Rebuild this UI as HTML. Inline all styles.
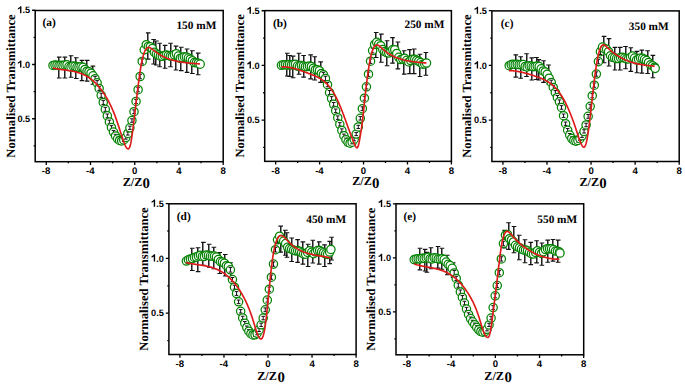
<!DOCTYPE html>
<html><head><meta charset="utf-8"><style>
html,body{margin:0;padding:0;background:#fff;width:685px;height:385px;overflow:hidden}
svg{display:block}
text{font-family:"Liberation Serif",serif;font-weight:bold;fill:#000;text-rendering:geometricPrecision}
.tx{font-family:"Liberation Sans",sans-serif;font-size:9.6px;text-anchor:middle;font-weight:bold}
.ty{font-family:"Liberation Sans",sans-serif;font-size:9.2px;text-anchor:end;font-weight:bold}
.xt{font-size:12.2px}
.x0{font-size:14.8px}
.yt{font-size:12.5px;text-anchor:middle}
.tag{font-size:11.4px}
.eb{stroke:#111;stroke-width:1;fill:none}
.conc{font-size:11.3px;text-anchor:end}
</style></head><body>
<svg width="685" height="385" viewBox="0 0 685 385">
<defs><path id="one" d="M401 0V-716H292C258-640 180-566 42-520V-392C128-420 206-462 264-508V0Z"/></defs>
<rect width="685" height="385" fill="#fff"/>
<path d="M58.5 57.1V78M64.5 57.1V78M70.5 55.7V77.2M75.5 57.8V78.5M81.5 60.4V80.6M86.5 60.4V81.1M92.5 66.1V84.3M147.5 32.9V59.1M153.5 39.5V64M155.5 41V65M159.5 43.3V66.7M164.5 45.4V68.3M170.5 43.3V66.7M175.5 46.1V70M180.5 47.3V70.6M186.5 49V72.4M191.5 50.8V73.5M197.5 53.1V74.7" stroke="#222" stroke-width="1" fill="none"/>
<path d="M59.5 57.4V77.7M65.5 57.4V77.7M71.5 56V76.9M76.5 58.1V78.2M82.5 60.7V80.3M87.5 60.7V80.8M93.5 66.4V84M148.5 33.2V58.8M154.5 39.8V63.7M156.5 41.3V64.7M160.5 43.6V66.4M165.5 45.7V68M171.5 43.6V66.4M176.5 46.4V69.7M181.5 47.6V70.3M187.5 49.3V72.1M192.5 51.1V73.2M198.5 53.4V74.4" stroke="#8a8a8a" stroke-width="1" fill="none"/>
<path d="M56.9 57.1h4.6M56.9 78h4.6M62.6 57.1h4.6M62.6 78h4.6M68.8 55.7h4.6M68.8 77.2h4.6M74 57.8h4.6M74 78.5h4.6M79.7 60.4h4.6M79.7 80.6h4.6M84.9 60.4h4.6M84.9 81.1h4.6M90.6 66.1h4.6M90.6 84.3h4.6M145.9 32.9h4.6M145.9 59.1h4.6M151.3 39.5h4.6M151.3 64h4.6M154.1 41h4.6M154.1 65h4.6M157.3 43.3h4.6M157.3 66.7h4.6M162.8 45.4h4.6M162.8 68.3h4.6M168.2 43.3h4.6M168.2 66.7h4.6M173.7 46.1h4.6M173.7 70h4.6M179 47.3h4.6M179 70.6h4.6M184.8 49h4.6M184.8 72.4h4.6M190.1 50.8h4.6M190.1 73.5h4.6M195.9 53.1h4.6M195.9 74.7h4.6" stroke="#111" stroke-width="1.1" fill="none"/>
<g fill="#fff" stroke="#058305" stroke-width="1.25"><circle cx="53" cy="65.47" r="4.15"/><circle cx="55" cy="65.06" r="4.15"/><circle cx="57" cy="65.15" r="4.15"/><circle cx="59" cy="65.51" r="4.15"/><circle cx="61" cy="65.15" r="4.15"/><circle cx="63" cy="65.48" r="4.15"/><circle cx="65" cy="65.12" r="4.15"/><circle cx="67" cy="64.83" r="4.15"/><circle cx="69" cy="66.52" r="4.15"/><circle cx="71" cy="66.95" r="4.15"/><circle cx="73" cy="65.93" r="4.15"/><circle cx="75" cy="66.31" r="4.15"/><circle cx="77" cy="67.11" r="4.15"/><circle cx="79" cy="67.13" r="4.15"/><circle cx="81" cy="66.78" r="4.15"/><circle cx="83" cy="67.33" r="4.15"/><circle cx="85" cy="69.42" r="4.15"/><circle cx="87" cy="71.2" r="4.15"/><circle cx="89" cy="71.69" r="4.15"/><circle cx="91" cy="73.24" r="4.15"/><circle cx="93" cy="75.83" r="4.15"/><circle cx="95.05" cy="78.7" r="4.15"/><path d="M95.05 76.35V81.04M93.25 76.35h3.6M93.25 81.04h3.6" class="eb"/><circle cx="97.1" cy="82.8" r="4.15"/><path d="M97.1 80.59V85.01M95.3 80.59h3.6M95.3 85.01h3.6" class="eb"/><circle cx="99.15" cy="88.48" r="4.15"/><path d="M99.15 86.35V90.61M97.35 86.35h3.6M97.35 90.61h3.6" class="eb"/><circle cx="101.2" cy="95.27" r="4.15"/><path d="M101.2 93.19V97.36M99.4 93.19h3.6M99.4 97.36h3.6" class="eb"/><circle cx="103.25" cy="102.4" r="4.15"/><path d="M103.25 100.36V104.45M101.45 100.36h3.6M101.45 104.45h3.6" class="eb"/><circle cx="105.3" cy="109.33" r="4.15"/><path d="M105.3 107.34V111.32M103.5 107.34h3.6M103.5 111.32h3.6" class="eb"/><circle cx="107.35" cy="115.89" r="4.15"/><path d="M107.35 113.98V117.8M105.55 113.98h3.6M105.55 117.8h3.6" class="eb"/><circle cx="109.4" cy="121.96" r="4.15"/><path d="M109.4 120.13V123.79M107.6 120.13h3.6M107.6 123.79h3.6" class="eb"/><circle cx="111.45" cy="127.41" r="4.15"/><path d="M111.45 125.66V129.16M109.65 125.66h3.6M109.65 129.16h3.6" class="eb"/><circle cx="113.5" cy="132.11" r="4.15"/><path d="M113.5 130.44V133.79M111.7 130.44h3.6M111.7 133.79h3.6" class="eb"/><circle cx="115.55" cy="135.94" r="4.15"/><path d="M115.55 134.32V137.57M113.75 134.32h3.6M113.75 137.57h3.6" class="eb"/><circle cx="117.6" cy="138.77" r="4.15"/><path d="M117.6 137.17V140.37M115.8 137.17h3.6M115.8 140.37h3.6" class="eb"/><circle cx="119.65" cy="140.47" r="4.15"/><path d="M119.65 138.87V142.07M117.85 138.87h3.6M117.85 142.07h3.6" class="eb"/><circle cx="121.7" cy="140.92" r="4.15"/><path d="M121.7 139.32V142.52M119.9 139.32h3.6M119.9 142.52h3.6" class="eb"/><circle cx="123.75" cy="139.98" r="4.15"/><path d="M123.75 138.38V141.58M121.95 138.38h3.6M121.95 141.58h3.6" class="eb"/><circle cx="125.8" cy="137.53" r="4.15"/><path d="M125.8 135.93V139.13M124 135.93h3.6M124 139.13h3.6" class="eb"/><circle cx="127.85" cy="133.47" r="4.15"/><path d="M127.85 131.87V135.07M126.05 131.87h3.6M126.05 135.07h3.6" class="eb"/><circle cx="129.9" cy="127.79" r="4.15"/><path d="M129.9 126.15V129.42M128.1 126.15h3.6M128.1 129.42h3.6" class="eb"/><circle cx="131.95" cy="120.53" r="4.15"/><path d="M131.95 118.79V122.27M130.15 118.79h3.6M130.15 122.27h3.6" class="eb"/><circle cx="134" cy="111.74" r="4.15"/><path d="M134 109.87V113.62M132.2 109.87h3.6M132.2 113.62h3.6" class="eb"/><circle cx="136.05" cy="101.46" r="4.15"/><path d="M136.05 99.45V103.46M134.25 99.45h3.6M134.25 103.46h3.6" class="eb"/><circle cx="138.1" cy="89.71" r="4.15"/><path d="M138.1 87.62V91.81M136.3 87.62h3.6M136.3 91.81h3.6" class="eb"/><circle cx="140.15" cy="76.5" r="4.15"/><path d="M140.15 74.29V78.71M138.35 74.29h3.6M138.35 78.71h3.6" class="eb"/><circle cx="142.2" cy="61.47" r="4.15"/><path d="M142.2 58.97V63.97M140.4 58.97h3.6M140.4 63.97h3.6" class="eb"/><circle cx="144.25" cy="49.84" r="4.15"/><circle cx="146.3" cy="44.67" r="4.15"/><circle cx="148.35" cy="46.44" r="4.15"/><circle cx="150.35" cy="46.76" r="4.15"/><circle cx="152.35" cy="48.61" r="4.15"/><circle cx="154.35" cy="52.24" r="4.15"/><circle cx="156.35" cy="54.06" r="4.15"/><circle cx="158.35" cy="55.09" r="4.15"/><circle cx="160.35" cy="56.2" r="4.15"/><circle cx="162.35" cy="56.33" r="4.15"/><circle cx="164.35" cy="55.44" r="4.15"/><circle cx="166.35" cy="54.91" r="4.15"/><circle cx="168.35" cy="55.53" r="4.15"/><circle cx="170.35" cy="56.19" r="4.15"/><circle cx="172.35" cy="56.29" r="4.15"/><circle cx="174.35" cy="54.8" r="4.15"/><circle cx="176.35" cy="53.75" r="4.15"/><circle cx="178.35" cy="56.07" r="4.15"/><circle cx="180.35" cy="58.25" r="4.15"/><circle cx="182.35" cy="57.55" r="4.15"/><circle cx="184.35" cy="56.67" r="4.15"/><circle cx="186.35" cy="56.97" r="4.15"/><circle cx="188.35" cy="58.1" r="4.15"/><circle cx="190.35" cy="59.2" r="4.15"/><circle cx="192.35" cy="60.68" r="4.15"/><circle cx="194.35" cy="62.56" r="4.15"/><circle cx="196.35" cy="62.78" r="4.15"/><circle cx="198.35" cy="63.24" r="4.15"/><circle cx="200.2" cy="64.13" r="4.15"/></g>
<path d="M53 68.02 L53.49 68.13 L53.98 68.24 L54.47 68.35 L54.97 68.45 L55.46 68.55 L55.95 68.65 L56.44 68.74 L56.93 68.83 L57.42 68.91 L57.91 69 L58.4 69.08 L58.9 69.15 L59.39 69.23 L59.88 69.3 L60.37 69.38 L60.86 69.45 L61.35 69.52 L61.84 69.58 L62.33 69.65 L62.83 69.72 L63.32 69.78 L63.81 69.85 L64.3 69.92 L64.79 69.98 L65.28 70.05 L65.77 70.11 L66.27 70.18 L66.76 70.25 L67.25 70.32 L67.74 70.39 L68.23 70.46 L68.72 70.53 L69.21 70.61 L69.7 70.69 L70.2 70.77 L70.69 70.85 L71.18 70.94 L71.67 71.02 L72.16 71.12 L72.65 71.21 L73.14 71.31 L73.63 71.41 L74.13 71.52 L74.62 71.63 L75.11 71.75 L75.6 71.86 L76.09 71.99 L76.58 72.12 L77.07 72.25 L77.57 72.39 L78.06 72.54 L78.55 72.69 L79.04 72.85 L79.53 73.01 L80.02 73.18 L80.51 73.36 L81 73.55 L81.5 73.74 L81.99 73.94 L82.48 74.14 L82.97 74.35 L83.46 74.58 L83.95 74.81 L84.44 75.04 L84.93 75.29 L85.43 75.55 L85.92 75.81 L86.41 76.08 L86.9 76.37 L87.39 76.66 L87.88 76.96 L88.37 77.27 L88.87 77.59 L89.36 77.93 L89.85 78.27 L90.34 78.62 L90.83 78.99 L91.32 79.37 L91.81 79.75 L92.3 80.15 L92.8 80.56 L93.29 80.99 L93.78 81.42 L94.27 81.87 L94.76 82.33 L95.25 82.8 L95.74 83.29 L96.23 83.79 L96.73 84.3 L97.22 84.83 L97.71 85.37 L98.2 85.92 L98.69 86.49 L99.18 87.07 L99.67 87.67 L100.17 88.28 L100.66 88.91 L101.15 89.56 L101.64 90.21 L102.13 90.89 L102.62 91.58 L103.11 92.29 L103.6 93.01 L104.1 93.75 L104.59 94.5 L105.08 95.28 L105.57 96.07 L106.06 96.87 L106.55 97.7 L107.04 98.54 L107.53 99.41 L108.03 100.3 L108.52 101.2 L109.01 102.13 L109.5 103.09 L109.99 104.07 L110.48 105.07 L110.97 106.11 L111.47 107.17 L111.96 108.26 L112.45 109.38 L112.94 110.53 L113.43 111.71 L113.92 112.92 L114.41 114.17 L114.9 115.46 L115.4 116.78 L115.89 118.14 L116.38 119.53 L116.87 120.95 L117.36 122.4 L117.85 123.87 L118.34 125.36 L118.83 126.86 L119.33 128.37 L119.82 129.89 L120.31 131.41 L120.8 132.92 L121.29 134.43 L121.78 135.92 L122.27 137.4 L122.77 138.85 L123.26 140.28 L123.75 141.67 L124.24 143 L124.73 144.24 L125.22 145.38 L125.71 146.4 L126.2 147.27 L126.7 147.98 L127.19 148.5 L127.68 148.81 L128.17 148.89 L128.66 148.7 L129.15 148.19 L129.64 147.26 L130.13 145.87 L130.63 143.93 L131.12 141.44 L131.61 138.48 L132.1 135.13 L132.59 131.51 L133.08 127.69 L133.57 123.76 L134.07 119.75 L134.56 115.67 L135.05 111.54 L135.54 107.4 L136.03 103.26 L136.52 99.13 L137.01 95.05 L137.5 91.03 L138 87.1 L138.49 83.27 L138.98 79.56 L139.47 76 L139.96 72.62 L140.45 69.42 L140.94 66.43 L141.43 63.67 L141.93 61.17 L142.42 58.92 L142.91 56.91 L143.4 55.12 L143.89 53.56 L144.38 52.21 L144.87 51.04 L145.37 50.07 L145.86 49.26 L146.35 48.62 L146.84 48.12 L147.33 47.76 L147.82 47.53 L148.31 47.42 L148.8 47.4 L149.3 47.48 L149.79 47.64 L150.28 47.87 L150.77 48.16 L151.26 48.49 L151.75 48.85 L152.24 49.24 L152.73 49.64 L153.23 50.04 L153.72 50.44 L154.21 50.82 L154.7 51.2 L155.19 51.57 L155.68 51.93 L156.17 52.28 L156.67 52.62 L157.16 52.96 L157.65 53.29 L158.14 53.61 L158.63 53.92 L159.12 54.23 L159.61 54.53 L160.1 54.82 L160.6 55.11 L161.09 55.39 L161.58 55.66 L162.07 55.92 L162.56 56.18 L163.05 56.43 L163.54 56.68 L164.03 56.91 L164.53 57.15 L165.02 57.37 L165.51 57.59 L166 57.81 L166.49 58.02 L166.98 58.22 L167.47 58.41 L167.97 58.61 L168.46 58.79 L168.95 58.97 L169.44 59.15 L169.93 59.32 L170.42 59.48 L170.91 59.64 L171.4 59.8 L171.9 59.95 L172.39 60.1 L172.88 60.24 L173.37 60.37 L173.86 60.51 L174.35 60.63 L174.84 60.76 L175.33 60.88 L175.83 61 L176.32 61.11 L176.81 61.22 L177.3 61.32 L177.79 61.42 L178.28 61.52 L178.77 61.62 L179.27 61.71 L179.76 61.8 L180.25 61.88 L180.74 61.96 L181.23 62.04 L181.72 62.12 L182.21 62.2 L182.7 62.27 L183.2 62.34 L183.69 62.4 L184.18 62.47 L184.67 62.53 L185.16 62.59 L185.65 62.65 L186.14 62.71 L186.63 62.76 L187.13 62.82 L187.62 62.87 L188.11 62.92 L188.6 62.97 L189.09 63.02 L189.58 63.06 L190.07 63.11 L190.57 63.15 L191.06 63.2 L191.55 63.24 L192.04 63.29 L192.53 63.33 L193.02 63.37 L193.51 63.41 L194 63.45 L194.5 63.49 L194.99 63.54 L195.48 63.58 L195.97 63.62 L196.46 63.66 L196.95 63.7 L197.44 63.75 L197.93 63.79 L198.43 63.83 L198.92 63.88 L199.41 63.92 L199.9 63.97" stroke="#de1a1a" stroke-width="1.65" fill="none" stroke-linejoin="round"/>
<rect x="35.2" y="10.5" width="188" height="151.2" fill="none" stroke="#000" stroke-width="1.5"/>
<path d="M46.26 161.7v3.2M90.49 161.7v3.2M134.73 161.7v3.2M178.96 161.7v3.2M223.2 161.7v3.2M68.38 161.7v1.6M112.61 161.7v1.6M156.85 161.7v1.6M201.08 161.7v1.6M35.2 118.75h-3.1M35.2 64.5h-3.1M35.2 10.25h-3.1M35.2 145.88h-1.6M35.2 91.62h-1.6M35.2 37.38h-1.6" stroke="#000" stroke-width="1.3" fill="none"/>
<text class="tx" x="46.06" y="174">-8</text>
<text class="tx" x="90.29" y="174">-4</text>
<text class="tx" x="134.73" y="174">0</text>
<text class="tx" x="178.96" y="174">4</text>
<text class="tx" x="223.2" y="174">8</text>
<text class="ty" x="30.2" y="121.85">0.5</text>
<text class="ty" x="30.2" y="67.6">.0</text>
<use href="#one" transform="translate(17.41 67.6) scale(0.01)"/>
<text class="ty" x="30.2" y="13.35">.5</text>
<use href="#one" transform="translate(17.41 13.35) scale(0.01)"/>
<text class="xt" x="122.7" y="185.8">Z/Z<tspan class="x0" dx="0.1" dy="2.5">0</tspan></text>
<text class="yt" transform="translate(14.5 86) rotate(-90)" x="0" y="0" textLength="143.3" lengthAdjust="spacingAndGlyphs">Normalised Transmittance</text>
<text class="tag" x="42.4" y="26.1">(a)</text>
<text class="conc" x="216.3" y="28.5">150 mM</text>
<path d="M286.5 53.2V76M289.5 55.5V76.5M292.5 56.1V77.7M298.5 53.2V74.2M303.5 55.5V77.1M310.5 54.9V78.9M314.5 56.7V80M320.5 61.9V82.4M375.5 32.5V57.5M380.5 34.1V62.2M386.5 40.8V65.8M392.5 37.6V63.1M397.5 42V68.9M403.5 50.8V74.1M409.5 49.6V73.6M413.5 49V73.6M419.5 54.3V76.5M425.5 52.5V75.3" stroke="#222" stroke-width="1" fill="none"/>
<path d="M287.5 53.5V75.7M290.5 55.8V76.2M293.5 56.4V77.4M299.5 53.5V73.9M304.5 55.8V76.8M311.5 55.2V78.6M315.5 57V79.7M321.5 62.2V82.1M376.5 32.8V57.2M381.5 34.4V61.9M387.5 41.1V65.5M393.5 37.9V62.8M398.5 42.3V68.6M404.5 51.1V73.8M410.5 49.9V73.3M414.5 49.3V73.3M420.5 54.6V76.2M426.5 52.8V75" stroke="#8a8a8a" stroke-width="1" fill="none"/>
<path d="M285 53.2h4.6M285 76h4.6M287.3 55.5h4.6M287.3 76.5h4.6M290.8 56.1h4.6M290.8 77.7h4.6M296.7 53.2h4.6M296.7 74.2h4.6M301.3 55.5h4.6M301.3 77.1h4.6M308.3 54.9h4.6M308.3 78.9h4.6M312.4 56.7h4.6M312.4 80h4.6M318.3 61.9h4.6M318.3 82.4h4.6M373.9 32.5h4.6M373.9 57.5h4.6M379.1 34.1h4.6M379.1 62.2h4.6M384.8 40.8h4.6M384.8 65.8h4.6M390.2 37.6h4.6M390.2 63.1h4.6M395.6 42h4.6M395.6 68.9h4.6M402 50.8h4.6M402 74.1h4.6M407.2 49.6h4.6M407.2 73.6h4.6M411.9 49h4.6M411.9 73.6h4.6M417.7 54.3h4.6M417.7 76.5h4.6M423.6 52.5h4.6M423.6 75.3h4.6" stroke="#111" stroke-width="1.1" fill="none"/>
<g fill="#fff" stroke="#058305" stroke-width="1.25"><circle cx="281.4" cy="65.34" r="4.15"/><circle cx="283.4" cy="64.76" r="4.15"/><circle cx="285.4" cy="64.73" r="4.15"/><circle cx="287.4" cy="65.01" r="4.15"/><circle cx="289.4" cy="64.62" r="4.15"/><circle cx="291.4" cy="64.96" r="4.15"/><circle cx="293.4" cy="64.62" r="4.15"/><circle cx="295.4" cy="64.37" r="4.15"/><circle cx="297.4" cy="66.09" r="4.15"/><circle cx="299.4" cy="66.55" r="4.15"/><circle cx="301.4" cy="65.54" r="4.15"/><circle cx="303.4" cy="65.9" r="4.15"/><circle cx="305.4" cy="66.66" r="4.15"/><circle cx="307.4" cy="66.59" r="4.15"/><circle cx="309.4" cy="66.08" r="4.15"/><circle cx="311.4" cy="66.43" r="4.15"/><circle cx="313.4" cy="68.23" r="4.15"/><circle cx="315.4" cy="69.65" r="4.15"/><circle cx="317.4" cy="69.67" r="4.15"/><circle cx="319.4" cy="70.66" r="4.15"/><circle cx="321.4" cy="73.48" r="4.15"/><circle cx="323.4" cy="74.66" r="4.15"/><path d="M323.4 72.34V76.99M321.6 72.34h3.6M321.6 76.99h3.6" class="eb"/><circle cx="325.45" cy="78.45" r="4.15"/><path d="M325.45 76.3V80.6M323.65 76.3h3.6M323.65 80.6h3.6" class="eb"/><circle cx="327.5" cy="84.72" r="4.15"/><path d="M327.5 82.65V86.79M325.7 82.65h3.6M325.7 86.79h3.6" class="eb"/><circle cx="329.55" cy="92.56" r="4.15"/><path d="M329.55 90.54V94.57M327.75 90.54h3.6M327.75 94.57h3.6" class="eb"/><circle cx="331.6" cy="98.55" r="4.15"/><path d="M331.6 96.61V100.49M329.8 96.61h3.6M329.8 100.49h3.6" class="eb"/><circle cx="333.65" cy="104.36" r="4.15"/><path d="M333.65 102.5V106.22M331.85 102.5h3.6M331.85 106.22h3.6" class="eb"/><circle cx="335.7" cy="110.86" r="4.15"/><path d="M335.7 109.07V112.65M333.9 109.07h3.6M333.9 112.65h3.6" class="eb"/><circle cx="337.75" cy="117.65" r="4.15"/><path d="M337.75 115.93V119.37M335.95 115.93h3.6M335.95 119.37h3.6" class="eb"/><circle cx="339.8" cy="124.33" r="4.15"/><path d="M339.8 122.66V125.99M338 122.66h3.6M338 125.99h3.6" class="eb"/><circle cx="341.85" cy="130.48" r="4.15"/><path d="M341.85 128.86V132.11M340.05 128.86h3.6M340.05 132.11h3.6" class="eb"/><circle cx="343.9" cy="135.71" r="4.15"/><path d="M343.9 134.11V137.32M342.1 134.11h3.6M342.1 137.32h3.6" class="eb"/><circle cx="345.95" cy="139.71" r="4.15"/><path d="M345.95 138.11V141.31M344.15 138.11h3.6M344.15 141.31h3.6" class="eb"/><circle cx="348" cy="142.26" r="4.15"/><path d="M348 140.66V143.86M346.2 140.66h3.6M346.2 143.86h3.6" class="eb"/><circle cx="350.05" cy="143.16" r="4.15"/><path d="M350.05 141.56V144.76M348.25 141.56h3.6M348.25 144.76h3.6" class="eb"/><circle cx="352.1" cy="142.22" r="4.15"/><path d="M352.1 140.62V143.82M350.3 140.62h3.6M350.3 143.82h3.6" class="eb"/><circle cx="354.15" cy="139.22" r="4.15"/><path d="M354.15 137.62V140.82M352.35 137.62h3.6M352.35 140.82h3.6" class="eb"/><circle cx="356.2" cy="134.03" r="4.15"/><path d="M356.2 132.43V135.63M354.4 132.43h3.6M354.4 135.63h3.6" class="eb"/><circle cx="358.25" cy="126.92" r="4.15"/><path d="M358.25 125.29V128.54M356.45 125.29h3.6M356.45 128.54h3.6" class="eb"/><circle cx="360.3" cy="118.32" r="4.15"/><path d="M360.3 116.58V120.06M358.5 116.58h3.6M358.5 120.06h3.6" class="eb"/><circle cx="362.35" cy="108.68" r="4.15"/><path d="M362.35 106.78V110.57M360.55 106.78h3.6M360.55 110.57h3.6" class="eb"/><circle cx="364.4" cy="98.23" r="4.15"/><path d="M364.4 96.22V100.25M362.6 96.22h3.6M362.6 100.25h3.6" class="eb"/><circle cx="366.45" cy="86.82" r="4.15"/><path d="M366.45 84.73V88.91M364.65 84.73h3.6M364.65 88.91h3.6" class="eb"/><circle cx="368.5" cy="74.22" r="4.15"/><path d="M368.5 72.08V76.36M366.7 72.08h3.6M366.7 76.36h3.6" class="eb"/><circle cx="370.55" cy="61.22" r="4.15"/><path d="M370.55 59V63.44M368.75 59h3.6M368.75 63.44h3.6" class="eb"/><circle cx="372.6" cy="50.53" r="4.15"/><path d="M372.6 48.16V52.89M370.8 48.16h3.6M370.8 52.89h3.6" class="eb"/><circle cx="374.65" cy="44.4" r="4.15"/><circle cx="376.7" cy="42.3" r="4.15"/><circle cx="378.75" cy="44.08" r="4.15"/><circle cx="380.75" cy="45.72" r="4.15"/><circle cx="382.75" cy="49.54" r="4.15"/><circle cx="384.75" cy="51.56" r="4.15"/><circle cx="386.75" cy="52.54" r="4.15"/><circle cx="388.75" cy="53.01" r="4.15"/><circle cx="390.75" cy="51.65" r="4.15"/><circle cx="392.75" cy="49.55" r="4.15"/><circle cx="394.75" cy="49.74" r="4.15"/><circle cx="396.75" cy="53.45" r="4.15"/><circle cx="398.75" cy="57.36" r="4.15"/><circle cx="400.75" cy="59.56" r="4.15"/><circle cx="402.75" cy="59.11" r="4.15"/><circle cx="404.75" cy="58.32" r="4.15"/><circle cx="406.75" cy="60.36" r="4.15"/><circle cx="408.75" cy="61.95" r="4.15"/><circle cx="410.75" cy="60.59" r="4.15"/><circle cx="412.75" cy="59.21" r="4.15"/><circle cx="414.75" cy="59.25" r="4.15"/><circle cx="416.75" cy="60.23" r="4.15"/><circle cx="418.75" cy="61.25" r="4.15"/><circle cx="420.75" cy="62.59" r="4.15"/><circle cx="422.75" cy="64.22" r="4.15"/><circle cx="424.75" cy="63.98" r="4.15"/><circle cx="426.5" cy="63.08" r="4.15"/></g>
<path d="M281.4 66.87 L281.89 66.85 L282.37 66.83 L282.86 66.83 L283.34 66.83 L283.83 66.84 L284.31 66.85 L284.8 66.87 L285.28 66.9 L285.77 66.94 L286.25 66.98 L286.74 67.03 L287.22 67.08 L287.71 67.14 L288.19 67.21 L288.68 67.28 L289.16 67.36 L289.65 67.44 L290.14 67.53 L290.62 67.62 L291.11 67.72 L291.59 67.83 L292.08 67.93 L292.56 68.05 L293.05 68.16 L293.53 68.29 L294.02 68.41 L294.5 68.54 L294.99 68.68 L295.47 68.81 L295.96 68.95 L296.44 69.1 L296.93 69.25 L297.41 69.4 L297.9 69.55 L298.38 69.71 L298.87 69.87 L299.36 70.03 L299.84 70.2 L300.33 70.37 L300.81 70.54 L301.3 70.71 L301.78 70.88 L302.27 71.06 L302.75 71.24 L303.24 71.42 L303.72 71.6 L304.21 71.78 L304.69 71.96 L305.18 72.15 L305.66 72.33 L306.15 72.52 L306.63 72.7 L307.12 72.89 L307.61 73.08 L308.09 73.26 L308.58 73.45 L309.06 73.64 L309.55 73.82 L310.03 74.01 L310.52 74.2 L311 74.38 L311.49 74.57 L311.97 74.76 L312.46 74.95 L312.94 75.14 L313.43 75.33 L313.91 75.53 L314.4 75.73 L314.88 75.94 L315.37 76.15 L315.86 76.36 L316.34 76.59 L316.83 76.82 L317.31 77.05 L317.8 77.3 L318.28 77.55 L318.77 77.81 L319.25 78.08 L319.74 78.36 L320.22 78.65 L320.71 78.95 L321.19 79.26 L321.68 79.59 L322.16 79.92 L322.65 80.27 L323.13 80.64 L323.62 81.02 L324.11 81.41 L324.59 81.82 L325.08 82.24 L325.56 82.68 L326.05 83.14 L326.53 83.61 L327.02 84.1 L327.5 84.61 L327.99 85.14 L328.47 85.69 L328.96 86.26 L329.44 86.85 L329.93 87.46 L330.41 88.1 L330.9 88.75 L331.38 89.43 L331.87 90.13 L332.35 90.86 L332.84 91.61 L333.33 92.38 L333.81 93.18 L334.3 94.01 L334.78 94.86 L335.27 95.74 L335.75 96.65 L336.24 97.59 L336.72 98.55 L337.21 99.55 L337.69 100.57 L338.18 101.63 L338.66 102.71 L339.15 103.82 L339.63 104.96 L340.12 106.13 L340.6 107.31 L341.09 108.52 L341.58 109.74 L342.06 110.99 L342.55 112.25 L343.03 113.53 L343.52 114.82 L344 116.12 L344.49 117.43 L344.97 118.75 L345.46 120.08 L345.94 121.41 L346.43 122.75 L346.91 124.09 L347.4 125.43 L347.88 126.76 L348.37 128.1 L348.85 129.43 L349.34 130.76 L349.83 132.08 L350.31 133.39 L350.8 134.69 L351.28 135.97 L351.77 137.25 L352.25 138.51 L352.74 139.75 L353.22 140.97 L353.71 142.17 L354.19 143.35 L354.68 144.51 L355.16 145.61 L355.65 146.57 L356.13 147.32 L356.62 147.76 L357.1 147.81 L357.59 147.4 L358.07 146.44 L358.56 144.85 L359.05 142.66 L359.53 140.05 L360.02 137.25 L360.5 134.45 L360.99 131.67 L361.47 128.65 L361.96 125.16 L362.44 121.19 L362.93 116.87 L363.41 112.31 L363.9 107.64 L364.38 102.97 L364.87 98.42 L365.35 94.04 L365.84 89.81 L366.32 85.72 L366.81 81.77 L367.3 77.97 L367.78 74.35 L368.27 70.9 L368.75 67.65 L369.24 64.63 L369.72 61.83 L370.21 59.27 L370.69 56.97 L371.18 54.91 L371.66 53.08 L372.15 51.46 L372.63 50.06 L373.12 48.85 L373.6 47.82 L374.09 46.97 L374.57 46.29 L375.06 45.75 L375.55 45.36 L376.03 45.1 L376.52 44.96 L377 44.93 L377.49 45 L377.97 45.15 L378.46 45.38 L378.94 45.68 L379.43 46.03 L379.91 46.43 L380.4 46.86 L380.88 47.31 L381.37 47.77 L381.85 48.24 L382.34 48.69 L382.82 49.13 L383.31 49.56 L383.79 49.98 L384.28 50.39 L384.77 50.79 L385.25 51.17 L385.74 51.55 L386.22 51.92 L386.71 52.27 L387.19 52.62 L387.68 52.96 L388.16 53.29 L388.65 53.6 L389.13 53.91 L389.62 54.21 L390.1 54.51 L390.59 54.79 L391.07 55.06 L391.56 55.33 L392.04 55.59 L392.53 55.84 L393.02 56.09 L393.5 56.32 L393.99 56.55 L394.47 56.77 L394.96 56.99 L395.44 57.2 L395.93 57.4 L396.41 57.6 L396.9 57.78 L397.38 57.97 L397.87 58.15 L398.35 58.32 L398.84 58.49 L399.32 58.65 L399.81 58.81 L400.29 58.96 L400.78 59.11 L401.27 59.25 L401.75 59.39 L402.24 59.53 L402.72 59.66 L403.21 59.79 L403.69 59.91 L404.18 60.03 L404.66 60.15 L405.15 60.26 L405.63 60.37 L406.12 60.48 L406.6 60.59 L407.09 60.69 L407.57 60.78 L408.06 60.88 L408.54 60.97 L409.03 61.06 L409.52 61.15 L410 61.23 L410.49 61.31 L410.97 61.39 L411.46 61.47 L411.94 61.54 L412.43 61.61 L412.91 61.68 L413.4 61.75 L413.88 61.82 L414.37 61.88 L414.85 61.94 L415.34 62 L415.82 62.06 L416.31 62.11 L416.79 62.17 L417.28 62.22 L417.76 62.27 L418.25 62.32 L418.74 62.37 L419.22 62.41 L419.71 62.46 L420.19 62.5 L420.68 62.55 L421.16 62.59 L421.65 62.63 L422.13 62.67 L422.62 62.71 L423.1 62.75 L423.59 62.79 L424.07 62.83 L424.56 62.86 L425.04 62.9 L425.53 62.94 L426.01 62.97 L426.5 63.01" stroke="#de1a1a" stroke-width="1.65" fill="none" stroke-linejoin="round"/>
<rect x="264.7" y="10.65" width="186.7" height="150.7" fill="none" stroke="#000" stroke-width="1.5"/>
<path d="M275.68 161.35v3.2M319.61 161.35v3.2M363.54 161.35v3.2M407.47 161.35v3.2M451.4 161.35v3.2M297.65 161.35v1.6M341.58 161.35v1.6M385.51 161.35v1.6M429.44 161.35v1.6M264.7 120.05h-3.1M264.7 65.4h-3.1M264.7 10.75h-3.1M264.7 147.38h-1.6M264.7 92.73h-1.6M264.7 38.08h-1.6" stroke="#000" stroke-width="1.3" fill="none"/>
<text class="tx" x="275.48" y="173.65">-8</text>
<text class="tx" x="319.41" y="173.65">-4</text>
<text class="tx" x="363.54" y="173.65">0</text>
<text class="tx" x="407.47" y="173.65">4</text>
<text class="tx" x="451.4" y="173.65">8</text>
<text class="ty" x="259.7" y="123.15">0.5</text>
<text class="ty" x="259.7" y="68.5">.0</text>
<use href="#one" transform="translate(246.91 68.5) scale(0.01)"/>
<text class="ty" x="259.7" y="13.85">.5</text>
<use href="#one" transform="translate(246.91 13.85) scale(0.01)"/>
<text class="xt" x="352.2" y="185.45">Z/Z<tspan class="x0" dx="0.1" dy="2.5">0</tspan></text>
<text class="yt" transform="translate(244 85.9) rotate(-90)" x="0" y="0" textLength="143.3" lengthAdjust="spacingAndGlyphs">Normalised Transmittance</text>
<text class="tag" x="272.9" y="26.75">(b)</text>
<text class="conc" x="444.4" y="28.45">250 mM</text>
<path d="M515.5 54.9V77.1M520.5 56.7V78.3M526.5 53.8V76.5M531.5 57.9V80M536.5 57.5V79.5M538.5 59.6V80M543.5 60.8V82.4M548.5 65V84M603.5 36.4V62.8M608.5 38.6V66M614.5 47.4V70M619.5 47.4V70M625.5 46.5V68.8M630.5 47.8V71.4M636.5 51.4V72.8M641.5 50.1V73.1M647.5 50.8V73.5M652.5 55.4V77.8" stroke="#222" stroke-width="1" fill="none"/>
<path d="M516.5 55.2V76.8M521.5 57V78M527.5 54.1V76.2M532.5 58.2V79.7M537.5 57.8V79.2M539.5 59.9V79.7M544.5 61.1V82.1M549.5 65.3V83.7M604.5 36.7V62.5M609.5 38.9V65.7M615.5 47.7V69.7M620.5 47.7V69.7M626.5 46.8V68.5M631.5 48.1V71.1M637.5 51.7V72.5M642.5 50.4V72.8M648.5 51.1V73.2M653.5 55.7V77.5" stroke="#8a8a8a" stroke-width="1" fill="none"/>
<path d="M513.5 54.9h4.6M513.5 77.1h4.6M518.4 56.7h4.6M518.4 78.3h4.6M524.2 53.8h4.6M524.2 76.5h4.6M529.5 57.9h4.6M529.5 80h4.6M534.2 57.5h4.6M534.2 79.5h4.6M536.5 59.6h4.6M536.5 80h4.6M541.2 60.8h4.6M541.2 82.4h4.6M546.2 65h4.6M546.2 84h4.6M601.8 36.4h4.6M601.8 62.8h4.6M606.7 38.6h4.6M606.7 66h4.6M612.7 47.4h4.6M612.7 70h4.6M618 47.4h4.6M618 70h4.6M623.2 46.5h4.6M623.2 68.8h4.6M628.5 47.8h4.6M628.5 71.4h4.6M634.7 51.4h4.6M634.7 72.8h4.6M639.6 50.1h4.6M639.6 73.1h4.6M645.3 50.8h4.6M645.3 73.5h4.6M650.6 55.4h4.6M650.6 77.8h4.6" stroke="#111" stroke-width="1.1" fill="none"/>
<g fill="#fff" stroke="#058305" stroke-width="1.25"><circle cx="509.2" cy="65.73" r="4.15"/><circle cx="511.2" cy="64.55" r="4.15"/><circle cx="513.2" cy="64.22" r="4.15"/><circle cx="515.2" cy="64.45" r="4.15"/><circle cx="517.2" cy="64.17" r="4.15"/><circle cx="519.2" cy="64.72" r="4.15"/><circle cx="521.2" cy="64.63" r="4.15"/><circle cx="523.2" cy="64.62" r="4.15"/><circle cx="525.2" cy="66.5" r="4.15"/><circle cx="527.2" cy="66.98" r="4.15"/><circle cx="529.2" cy="65.89" r="4.15"/><circle cx="531.2" cy="66.12" r="4.15"/><circle cx="533.2" cy="66.74" r="4.15"/><circle cx="535.2" cy="66.59" r="4.15"/><circle cx="537.2" cy="66.11" r="4.15"/><circle cx="539.2" cy="66.64" r="4.15"/><circle cx="541.2" cy="68.84" r="4.15"/><circle cx="543.2" cy="70.93" r="4.15"/><circle cx="545.2" cy="71.96" r="4.15"/><circle cx="547.2" cy="74.38" r="4.15"/><circle cx="549.2" cy="78.21" r="4.15"/><circle cx="551.25" cy="82.45" r="4.15"/><path d="M551.25 80.2V84.7M549.45 80.2h3.6M549.45 84.7h3.6" class="eb"/><circle cx="553.3" cy="87.43" r="4.15"/><path d="M553.3 85.33V89.53M551.5 85.33h3.6M551.5 89.53h3.6" class="eb"/><circle cx="555.35" cy="92.61" r="4.15"/><path d="M555.35 90.58V94.63M553.55 90.58h3.6M553.55 94.63h3.6" class="eb"/><circle cx="557.4" cy="97.41" r="4.15"/><path d="M557.4 95.47V99.35M555.6 95.47h3.6M555.6 99.35h3.6" class="eb"/><circle cx="559.45" cy="101.79" r="4.15"/><path d="M559.45 99.93V103.64M557.65 99.93h3.6M557.65 103.64h3.6" class="eb"/><circle cx="561.5" cy="107.44" r="4.15"/><path d="M561.5 105.66V109.21M559.7 105.66h3.6M559.7 109.21h3.6" class="eb"/><circle cx="563.55" cy="115.73" r="4.15"/><path d="M563.55 114.02V117.44M561.75 114.02h3.6M561.75 117.44h3.6" class="eb"/><circle cx="565.6" cy="123.71" r="4.15"/><path d="M565.6 122.05V125.36M563.8 122.05h3.6M563.8 125.36h3.6" class="eb"/><circle cx="567.65" cy="130.19" r="4.15"/><path d="M567.65 128.57V131.8M565.85 128.57h3.6M565.85 131.8h3.6" class="eb"/><circle cx="569.7" cy="135.11" r="4.15"/><path d="M569.7 133.5V136.71M567.9 133.5h3.6M567.9 136.71h3.6" class="eb"/><circle cx="571.75" cy="138.5" r="4.15"/><path d="M571.75 136.9V140.1M569.95 136.9h3.6M569.95 140.1h3.6" class="eb"/><circle cx="573.8" cy="140.47" r="4.15"/><path d="M573.8 138.87V142.07M572 138.87h3.6M572 142.07h3.6" class="eb"/><circle cx="575.85" cy="141.1" r="4.15"/><path d="M575.85 139.5V142.7M574.05 139.5h3.6M574.05 142.7h3.6" class="eb"/><circle cx="577.9" cy="140.48" r="4.15"/><path d="M577.9 138.88V142.08M576.1 138.88h3.6M576.1 142.08h3.6" class="eb"/><circle cx="579.95" cy="138.72" r="4.15"/><path d="M579.95 137.12V140.32M578.15 137.12h3.6M578.15 140.32h3.6" class="eb"/><circle cx="582" cy="135.8" r="4.15"/><path d="M582 134.2V137.4M580.2 134.2h3.6M580.2 137.4h3.6" class="eb"/><circle cx="584.05" cy="131.38" r="4.15"/><path d="M584.05 129.73V133.03M582.25 129.73h3.6M582.25 133.03h3.6" class="eb"/><circle cx="586.1" cy="124.99" r="4.15"/><path d="M586.1 123.23V126.75M584.3 123.23h3.6M584.3 126.75h3.6" class="eb"/><circle cx="588.15" cy="116.38" r="4.15"/><path d="M588.15 114.48V118.28M586.35 114.48h3.6M586.35 118.28h3.6" class="eb"/><circle cx="590.2" cy="106.27" r="4.15"/><path d="M590.2 104.27V108.28M588.4 104.27h3.6M588.4 108.28h3.6" class="eb"/><circle cx="592.25" cy="95.68" r="4.15"/><path d="M592.25 93.61V97.76M590.45 93.61h3.6M590.45 97.76h3.6" class="eb"/><circle cx="594.3" cy="85.17" r="4.15"/><path d="M594.3 83.04V87.29M592.5 83.04h3.6M592.5 87.29h3.6" class="eb"/><circle cx="596.35" cy="74.03" r="4.15"/><path d="M596.35 71.85V76.21M594.55 71.85h3.6M594.55 76.21h3.6" class="eb"/><circle cx="598.4" cy="61.6" r="4.15"/><path d="M598.4 59.32V63.87M596.6 59.32h3.6M596.6 63.87h3.6" class="eb"/><circle cx="600.45" cy="51.64" r="4.15"/><path d="M600.45 48.76V54.51M598.65 48.76h3.6M598.65 54.51h3.6" class="eb"/><circle cx="602.5" cy="47.13" r="4.15"/><circle cx="604.55" cy="48.93" r="4.15"/><circle cx="606.55" cy="49.31" r="4.15"/><circle cx="608.55" cy="51.69" r="4.15"/><circle cx="610.55" cy="55.71" r="4.15"/><circle cx="612.55" cy="57.31" r="4.15"/><circle cx="614.55" cy="57.84" r="4.15"/><circle cx="616.55" cy="58.54" r="4.15"/><circle cx="618.55" cy="58.52" r="4.15"/><circle cx="620.55" cy="57.64" r="4.15"/><circle cx="622.55" cy="57.23" r="4.15"/><circle cx="624.55" cy="58.01" r="4.15"/><circle cx="626.55" cy="58.78" r="4.15"/><circle cx="628.55" cy="58.88" r="4.15"/><circle cx="630.55" cy="57.28" r="4.15"/><circle cx="632.55" cy="56.04" r="4.15"/><circle cx="634.55" cy="58.14" r="4.15"/><circle cx="636.55" cy="60.07" r="4.15"/><circle cx="638.55" cy="59.15" r="4.15"/><circle cx="640.55" cy="58.07" r="4.15"/><circle cx="642.55" cy="58.27" r="4.15"/><circle cx="644.55" cy="59.39" r="4.15"/><circle cx="646.55" cy="60.62" r="4.15"/><circle cx="648.55" cy="62.4" r="4.15"/><circle cx="650.55" cy="64.77" r="4.15"/><circle cx="652.55" cy="65.71" r="4.15"/><circle cx="654.55" cy="67.15" r="4.15"/><circle cx="655.2" cy="68.36" r="4.15"/></g>
<path d="M509 70.57 L509.49 70.59 L509.97 70.61 L510.46 70.63 L510.95 70.65 L511.44 70.69 L511.92 70.72 L512.41 70.76 L512.9 70.8 L513.39 70.85 L513.87 70.91 L514.36 70.96 L514.85 71.02 L515.33 71.09 L515.82 71.15 L516.31 71.22 L516.8 71.3 L517.28 71.38 L517.77 71.46 L518.26 71.55 L518.75 71.64 L519.23 71.73 L519.72 71.82 L520.21 71.92 L520.69 72.03 L521.18 72.13 L521.67 72.24 L522.16 72.35 L522.64 72.46 L523.13 72.58 L523.62 72.7 L524.11 72.82 L524.59 72.95 L525.08 73.08 L525.57 73.21 L526.06 73.34 L526.54 73.47 L527.03 73.61 L527.52 73.75 L528 73.89 L528.49 74.04 L528.98 74.18 L529.47 74.33 L529.95 74.48 L530.44 74.63 L530.93 74.79 L531.42 74.94 L531.9 75.1 L532.39 75.26 L532.88 75.42 L533.36 75.58 L533.85 75.74 L534.34 75.91 L534.83 76.07 L535.31 76.24 L535.8 76.41 L536.29 76.58 L536.78 76.75 L537.26 76.92 L537.75 77.09 L538.24 77.27 L538.72 77.44 L539.21 77.62 L539.7 77.8 L540.19 77.99 L540.67 78.17 L541.16 78.37 L541.65 78.56 L542.14 78.77 L542.62 78.98 L543.11 79.19 L543.6 79.41 L544.08 79.64 L544.57 79.87 L545.06 80.11 L545.55 80.36 L546.03 80.62 L546.52 80.89 L547.01 81.16 L547.5 81.45 L547.98 81.75 L548.47 82.05 L548.96 82.37 L549.45 82.7 L549.93 83.04 L550.42 83.4 L550.91 83.77 L551.39 84.15 L551.88 84.54 L552.37 84.95 L552.86 85.37 L553.34 85.81 L553.83 86.26 L554.32 86.73 L554.81 87.21 L555.29 87.72 L555.78 88.24 L556.27 88.77 L556.75 89.33 L557.24 89.9 L557.73 90.49 L558.22 91.1 L558.7 91.73 L559.19 92.38 L559.68 93.05 L560.17 93.75 L560.65 94.46 L561.14 95.2 L561.63 95.95 L562.11 96.73 L562.6 97.54 L563.09 98.37 L563.58 99.22 L564.06 100.09 L564.55 100.99 L565.04 101.92 L565.53 102.87 L566.01 103.85 L566.5 104.84 L566.99 105.87 L567.47 106.92 L567.96 107.99 L568.45 109.09 L568.94 110.21 L569.42 111.36 L569.91 112.53 L570.4 113.73 L570.89 114.95 L571.37 116.2 L571.86 117.47 L572.35 118.76 L572.84 120.08 L573.32 121.43 L573.81 122.79 L574.3 124.19 L574.78 125.6 L575.27 127.04 L575.76 128.51 L576.25 130 L576.73 131.5 L577.22 133 L577.71 134.5 L578.2 135.97 L578.68 137.41 L579.17 138.81 L579.66 140.15 L580.14 141.42 L580.63 142.61 L581.12 143.72 L581.61 144.72 L582.09 145.6 L582.58 146.33 L583.07 146.85 L583.56 147.15 L584.04 147.17 L584.53 146.88 L585.02 146.25 L585.5 145.23 L585.99 143.78 L586.48 141.89 L586.97 139.57 L587.45 136.88 L587.94 133.85 L588.43 130.52 L588.92 126.94 L589.4 123.15 L589.89 119.18 L590.38 115.06 L590.86 110.83 L591.35 106.52 L591.84 102.15 L592.33 97.77 L592.81 93.41 L593.3 89.1 L593.79 84.87 L594.28 80.76 L594.76 76.79 L595.25 73.01 L595.74 69.44 L596.23 66.11 L596.71 63.06 L597.2 60.27 L597.69 57.75 L598.17 55.48 L598.66 53.46 L599.15 51.67 L599.64 50.11 L600.12 48.77 L600.61 47.65 L601.1 46.73 L601.59 46.01 L602.07 45.47 L602.56 45.11 L603.05 44.92 L603.53 44.87 L604.02 44.95 L604.51 45.13 L605 45.41 L605.48 45.76 L605.97 46.17 L606.46 46.62 L606.95 47.09 L607.43 47.57 L607.92 48.03 L608.41 48.49 L608.89 48.94 L609.38 49.38 L609.87 49.82 L610.36 50.24 L610.84 50.66 L611.33 51.07 L611.82 51.48 L612.31 51.87 L612.79 52.26 L613.28 52.64 L613.77 53.01 L614.25 53.38 L614.74 53.73 L615.23 54.08 L615.72 54.43 L616.2 54.76 L616.69 55.09 L617.18 55.42 L617.67 55.73 L618.15 56.04 L618.64 56.34 L619.13 56.64 L619.62 56.93 L620.1 57.21 L620.59 57.49 L621.08 57.76 L621.56 58.03 L622.05 58.29 L622.54 58.54 L623.03 58.79 L623.51 59.03 L624 59.26 L624.49 59.49 L624.98 59.72 L625.46 59.94 L625.95 60.15 L626.44 60.36 L626.92 60.56 L627.41 60.76 L627.9 60.95 L628.39 61.14 L628.87 61.32 L629.36 61.5 L629.85 61.67 L630.34 61.84 L630.82 62.01 L631.31 62.17 L631.8 62.32 L632.28 62.47 L632.77 62.62 L633.26 62.76 L633.75 62.9 L634.23 63.04 L634.72 63.17 L635.21 63.29 L635.7 63.42 L636.18 63.54 L636.67 63.65 L637.16 63.77 L637.64 63.88 L638.13 63.98 L638.62 64.08 L639.11 64.18 L639.59 64.28 L640.08 64.37 L640.57 64.46 L641.06 64.55 L641.54 64.64 L642.03 64.72 L642.52 64.8 L643.01 64.88 L643.49 64.95 L643.98 65.03 L644.47 65.1 L644.95 65.16 L645.44 65.23 L645.93 65.29 L646.42 65.36 L646.9 65.42 L647.39 65.48 L647.88 65.53 L648.37 65.59 L648.85 65.64 L649.34 65.7 L649.83 65.75 L650.31 65.8 L650.8 65.85 L651.29 65.89 L651.78 65.94 L652.26 65.99 L652.75 66.03 L653.24 66.07 L653.73 66.12 L654.21 66.16 L654.7 66.2" stroke="#de1a1a" stroke-width="1.65" fill="none" stroke-linejoin="round"/>
<rect x="491.9" y="10.9" width="187.3" height="150.6" fill="none" stroke="#000" stroke-width="1.5"/>
<path d="M502.92 161.5v3.2M546.99 161.5v3.2M591.06 161.5v3.2M635.13 161.5v3.2M679.2 161.5v3.2M524.95 161.5v1.6M569.02 161.5v1.6M613.09 161.5v1.6M657.16 161.5v1.6M491.9 120.1h-3.1M491.9 65.4h-3.1M491.9 10.7h-3.1M491.9 147.45h-1.6M491.9 92.75h-1.6M491.9 38.05h-1.6" stroke="#000" stroke-width="1.3" fill="none"/>
<text class="tx" x="502.72" y="173.8">-8</text>
<text class="tx" x="546.79" y="173.8">-4</text>
<text class="tx" x="591.06" y="173.8">0</text>
<text class="tx" x="635.13" y="173.8">4</text>
<text class="tx" x="679.2" y="173.8">8</text>
<text class="ty" x="486.9" y="123.2">0.5</text>
<text class="ty" x="486.9" y="68.5">.0</text>
<use href="#one" transform="translate(474.11 68.5) scale(0.01)"/>
<text class="ty" x="486.9" y="13.8">.5</text>
<use href="#one" transform="translate(474.11 13.8) scale(0.01)"/>
<text class="xt" x="579.4" y="185.6">Z/Z<tspan class="x0" dx="0.1" dy="2.5">0</tspan></text>
<text class="yt" transform="translate(471.2 86.1) rotate(-90)" x="0" y="0" textLength="143.3" lengthAdjust="spacingAndGlyphs">Normalised Transmittance</text>
<text class="tag" x="500.8" y="27.2">(c)</text>
<text class="conc" x="668.7" y="29.5">350 mM</text>
<path d="M191.5 248.3V270.5M197.5 247.7V271.6M202.5 242.4V265.2M208.5 244.2V267.2M213.5 247.2V268.8M219.5 252.5V273.5M224.5 254.5V276M230.5 262.7V279.9M280.5 226.1V252.1M284.5 230.2V255.2M286.5 232.8V257.3M291.5 238V261.5M297.5 239.6V262.4M302.5 241.9V264.1M307.5 244.3V266.5M312.5 240.2V263M318.5 241.9V264.1M324.5 244.9V266.5M329.5 241.4V263.6M331.5 237.3V260" stroke="#222" stroke-width="1" fill="none"/>
<path d="M192.5 248.6V270.2M198.5 248V271.3M203.5 242.7V264.9M209.5 244.5V266.9M214.5 247.5V268.5M220.5 252.8V273.2M225.5 254.8V275.7M231.5 263V279.6M281.5 226.4V251.8M285.5 230.5V254.9M287.5 233.1V257M292.5 238.3V261.2M298.5 239.9V262.1M303.5 242.2V263.8M308.5 244.6V266.2M313.5 240.5V262.7M319.5 242.2V263.8M325.5 245.2V266.2M330.5 241.7V263.3M332.5 237.6V259.7" stroke="#8a8a8a" stroke-width="1" fill="none"/>
<path d="M190 248.3h4.6M190 270.5h4.6M195.8 247.7h4.6M195.8 271.6h4.6M201.1 242.4h4.6M201.1 265.2h4.6M206.9 244.2h4.6M206.9 267.2h4.6M211.6 247.2h4.6M211.6 268.8h4.6M217.4 252.5h4.6M217.4 273.5h4.6M223 254.5h4.6M223 276h4.6M228.2 262.7h4.6M228.2 279.9h4.6M278.4 226.1h4.6M278.4 252.1h4.6M283.1 230.2h4.6M283.1 255.2h4.6M284.7 232.8h4.6M284.7 257.3h4.6M289.4 238h4.6M289.4 261.5h4.6M295.3 239.6h4.6M295.3 262.4h4.6M300.6 241.9h4.6M300.6 264.1h4.6M305.8 244.3h4.6M305.8 266.5h4.6M310.5 240.2h4.6M310.5 263h4.6M316.9 241.9h4.6M316.9 264.1h4.6M322.2 244.9h4.6M322.2 266.5h4.6M327.4 241.4h4.6M327.4 263.6h4.6M329.2 237.3h4.6M329.2 260h4.6" stroke="#111" stroke-width="1.1" fill="none"/>
<g fill="#fff" stroke="#058305" stroke-width="1.25"><circle cx="186.4" cy="261.03" r="4.15"/><circle cx="188.4" cy="259.78" r="4.15"/><circle cx="190.4" cy="259.04" r="4.15"/><circle cx="192.4" cy="258.6" r="4.15"/><circle cx="194.4" cy="257.48" r="4.15"/><circle cx="196.4" cy="257.1" r="4.15"/><circle cx="198.4" cy="256.08" r="4.15"/><circle cx="200.4" cy="255.21" r="4.15"/><circle cx="202.4" cy="256.4" r="4.15"/><circle cx="204.4" cy="256.42" r="4.15"/><circle cx="206.4" cy="255.1" r="4.15"/><circle cx="208.4" cy="255.29" r="4.15"/><circle cx="210.4" cy="256.04" r="4.15"/><circle cx="212.4" cy="256.14" r="4.15"/><circle cx="214.4" cy="256.02" r="4.15"/><circle cx="216.4" cy="256.95" r="4.15"/><circle cx="218.4" cy="259.46" r="4.15"/><circle cx="220.4" cy="261.56" r="4.15"/><circle cx="222.4" cy="262.08" r="4.15"/><circle cx="224.4" cy="263.23" r="4.15"/><circle cx="226.4" cy="265.67" r="4.15"/><circle cx="228.4" cy="266.47" r="4.15"/><circle cx="230.4" cy="269.83" r="4.15"/><path d="M230.4 267.55V272.11M228.6 267.55h3.6M228.6 272.11h3.6" class="eb"/><circle cx="232.45" cy="279.58" r="4.15"/><path d="M232.45 277.51V281.66M230.65 277.51h3.6M230.65 281.66h3.6" class="eb"/><circle cx="234.5" cy="287.19" r="4.15"/><path d="M234.5 285.22V289.17M232.7 285.22h3.6M232.7 289.17h3.6" class="eb"/><circle cx="236.55" cy="293.5" r="4.15"/><path d="M236.55 291.62V295.38M234.75 291.62h3.6M234.75 295.38h3.6" class="eb"/><circle cx="238.6" cy="301.83" r="4.15"/><path d="M238.6 300.03V303.63M236.8 300.03h3.6M236.8 303.63h3.6" class="eb"/><circle cx="240.65" cy="311.31" r="4.15"/><path d="M240.65 309.58V313.03M238.85 309.58h3.6M238.85 313.03h3.6" class="eb"/><circle cx="242.7" cy="317.93" r="4.15"/><path d="M242.7 316.26V319.6M240.9 316.26h3.6M240.9 319.6h3.6" class="eb"/><circle cx="244.75" cy="323.16" r="4.15"/><path d="M244.75 321.53V324.78M242.95 321.53h3.6M242.95 324.78h3.6" class="eb"/><circle cx="246.8" cy="327.62" r="4.15"/><path d="M246.8 326.02V329.23M245 326.02h3.6M245 329.23h3.6" class="eb"/><circle cx="248.85" cy="331.18" r="4.15"/><path d="M248.85 329.58V332.78M247.05 329.58h3.6M247.05 332.78h3.6" class="eb"/><circle cx="250.9" cy="333.67" r="4.15"/><path d="M250.9 332.07V335.27M249.1 332.07h3.6M249.1 335.27h3.6" class="eb"/><circle cx="252.95" cy="334.95" r="4.15"/><path d="M252.95 333.35V336.55M251.15 333.35h3.6M251.15 336.55h3.6" class="eb"/><circle cx="255" cy="334.84" r="4.15"/><path d="M255 333.24V336.44M253.2 333.24h3.6M253.2 336.44h3.6" class="eb"/><circle cx="257.05" cy="333.21" r="4.15"/><path d="M257.05 331.61V334.81M255.25 331.61h3.6M255.25 334.81h3.6" class="eb"/><circle cx="259.1" cy="329.89" r="4.15"/><path d="M259.1 328.29V331.49M257.3 328.29h3.6M257.3 331.49h3.6" class="eb"/><circle cx="261.15" cy="324.81" r="4.15"/><path d="M261.15 323.19V326.43M259.35 323.19h3.6M259.35 326.43h3.6" class="eb"/><circle cx="263.2" cy="318.07" r="4.15"/><path d="M263.2 316.33V319.8M261.4 316.33h3.6M261.4 319.8h3.6" class="eb"/><circle cx="265.25" cy="309.79" r="4.15"/><path d="M265.25 307.9V311.68M263.45 307.9h3.6M263.45 311.68h3.6" class="eb"/><circle cx="267.3" cy="300.13" r="4.15"/><path d="M267.3 298.12V302.14M265.5 298.12h3.6M265.5 302.14h3.6" class="eb"/><circle cx="269.35" cy="289.21" r="4.15"/><path d="M269.35 287.12V291.29M267.55 287.12h3.6M267.55 291.29h3.6" class="eb"/><circle cx="271.4" cy="277.16" r="4.15"/><path d="M271.4 275.03V279.29M269.6 275.03h3.6M269.6 279.29h3.6" class="eb"/><circle cx="273.45" cy="264.1" r="4.15"/><path d="M273.45 261.91V266.28M271.65 261.91h3.6M271.65 266.28h3.6" class="eb"/><circle cx="275.5" cy="249.72" r="4.15"/><path d="M275.5 247.44V252M273.7 247.44h3.6M273.7 252h3.6" class="eb"/><circle cx="277.55" cy="239.77" r="4.15"/><path d="M277.55 236.67V242.87M275.75 236.67h3.6M275.75 242.87h3.6" class="eb"/><circle cx="279.6" cy="236.23" r="4.15"/><circle cx="281.65" cy="239.53" r="4.15"/><circle cx="283.65" cy="241.07" r="4.15"/><circle cx="285.65" cy="243.58" r="4.15"/><circle cx="287.65" cy="247.15" r="4.15"/><circle cx="289.65" cy="248.54" r="4.15"/><circle cx="291.65" cy="249.16" r="4.15"/><circle cx="293.65" cy="250.25" r="4.15"/><circle cx="295.65" cy="250.87" r="4.15"/><circle cx="297.65" cy="250.79" r="4.15"/><circle cx="299.65" cy="251.18" r="4.15"/><circle cx="301.65" cy="252.65" r="4.15"/><circle cx="303.65" cy="253.88" r="4.15"/><circle cx="305.65" cy="254.15" r="4.15"/><circle cx="307.65" cy="252.41" r="4.15"/><circle cx="309.65" cy="250.78" r="4.15"/><circle cx="311.65" cy="252.3" r="4.15"/><circle cx="313.65" cy="253.6" r="4.15"/><circle cx="315.65" cy="252.07" r="4.15"/><circle cx="317.65" cy="250.54" r="4.15"/><circle cx="319.65" cy="250.54" r="4.15"/><circle cx="321.65" cy="251.68" r="4.15"/><circle cx="323.65" cy="252.75" r="4.15"/><circle cx="325.65" cy="253.77" r="4.15"/><circle cx="327.65" cy="254.37" r="4.15"/><circle cx="329.65" cy="252.09" r="4.15"/><circle cx="330.9" cy="249.42" r="4.15"/></g>
<path d="M185.8 262.54 L186.28 262.66 L186.77 262.77 L187.25 262.88 L187.73 262.98 L188.22 263.09 L188.7 263.19 L189.18 263.28 L189.67 263.38 L190.15 263.47 L190.63 263.55 L191.12 263.64 L191.6 263.72 L192.08 263.8 L192.57 263.88 L193.05 263.96 L193.53 264.04 L194.02 264.11 L194.5 264.18 L194.98 264.25 L195.47 264.33 L195.95 264.4 L196.43 264.47 L196.92 264.54 L197.4 264.61 L197.88 264.68 L198.37 264.74 L198.85 264.81 L199.33 264.89 L199.82 264.96 L200.3 265.03 L200.78 265.1 L201.26 265.18 L201.75 265.25 L202.23 265.33 L202.71 265.41 L203.2 265.49 L203.68 265.58 L204.16 265.66 L204.65 265.75 L205.13 265.84 L205.61 265.93 L206.1 266.03 L206.58 266.13 L207.06 266.23 L207.55 266.34 L208.03 266.45 L208.51 266.57 L209 266.68 L209.48 266.81 L209.96 266.93 L210.45 267.07 L210.93 267.2 L211.41 267.34 L211.9 267.49 L212.38 267.64 L212.86 267.8 L213.35 267.96 L213.83 268.13 L214.31 268.31 L214.8 268.49 L215.28 268.68 L215.76 268.87 L216.25 269.07 L216.73 269.28 L217.21 269.49 L217.7 269.71 L218.18 269.94 L218.66 270.18 L219.15 270.42 L219.63 270.68 L220.11 270.94 L220.6 271.21 L221.08 271.48 L221.56 271.77 L222.05 272.06 L222.53 272.37 L223.01 272.68 L223.5 273 L223.98 273.33 L224.46 273.68 L224.95 274.03 L225.43 274.39 L225.91 274.76 L226.4 275.14 L226.88 275.53 L227.36 275.94 L227.85 276.35 L228.33 276.78 L228.81 277.21 L229.29 277.66 L229.78 278.12 L230.26 278.59 L230.74 279.08 L231.23 279.57 L231.71 280.08 L232.19 280.6 L232.68 281.13 L233.16 281.68 L233.64 282.24 L234.13 282.81 L234.61 283.4 L235.09 283.99 L235.58 284.61 L236.06 285.23 L236.54 285.88 L237.03 286.53 L237.51 287.2 L237.99 287.88 L238.48 288.58 L238.96 289.3 L239.44 290.03 L239.93 290.77 L240.41 291.53 L240.89 292.31 L241.38 293.1 L241.86 293.92 L242.34 294.75 L242.83 295.6 L243.31 296.48 L243.79 297.38 L244.28 298.3 L244.76 299.25 L245.24 300.22 L245.73 301.22 L246.21 302.24 L246.69 303.3 L247.18 304.38 L247.66 305.49 L248.14 306.64 L248.63 307.81 L249.11 309.02 L249.59 310.27 L250.08 311.55 L250.56 312.86 L251.04 314.22 L251.53 315.61 L252.01 317.04 L252.49 318.51 L252.98 320.02 L253.46 321.57 L253.94 323.15 L254.43 324.75 L254.91 326.35 L255.39 327.93 L255.88 329.47 L256.36 330.96 L256.84 332.38 L257.33 333.7 L257.81 334.92 L258.29 336.02 L258.77 336.97 L259.26 337.77 L259.74 338.39 L260.22 338.81 L260.71 339.02 L261.19 339 L261.67 338.71 L262.16 338.13 L262.64 337.23 L263.12 335.98 L263.61 334.35 L264.09 332.32 L264.57 329.86 L265.06 326.95 L265.54 323.57 L266.02 319.79 L266.51 315.64 L266.99 311.18 L267.47 306.47 L267.96 301.61 L268.44 296.66 L268.92 291.7 L269.41 286.76 L269.89 281.9 L270.37 277.17 L270.86 272.62 L271.34 268.31 L271.82 264.28 L272.31 260.59 L272.79 257.24 L273.27 254.22 L273.76 251.5 L274.24 249.06 L274.72 246.89 L275.21 244.96 L275.69 243.26 L276.17 241.75 L276.66 240.43 L277.14 239.29 L277.62 238.32 L278.11 237.51 L278.59 236.84 L279.07 236.32 L279.56 235.94 L280.04 235.67 L280.52 235.52 L281.01 235.48 L281.49 235.53 L281.97 235.68 L282.46 235.9 L282.94 236.19 L283.42 236.54 L283.91 236.95 L284.39 237.4 L284.87 237.88 L285.36 238.4 L285.84 238.92 L286.32 239.46 L286.81 240 L287.29 240.52 L287.77 241.04 L288.25 241.54 L288.74 242.03 L289.22 242.5 L289.7 242.97 L290.19 243.42 L290.67 243.86 L291.15 244.29 L291.64 244.7 L292.12 245.11 L292.6 245.5 L293.09 245.88 L293.57 246.26 L294.05 246.62 L294.54 246.97 L295.02 247.31 L295.5 247.64 L295.99 247.97 L296.47 248.28 L296.95 248.58 L297.44 248.88 L297.92 249.16 L298.4 249.44 L298.89 249.7 L299.37 249.96 L299.85 250.21 L300.34 250.46 L300.82 250.69 L301.3 250.92 L301.79 251.14 L302.27 251.35 L302.75 251.56 L303.24 251.76 L303.72 251.95 L304.2 252.14 L304.69 252.32 L305.17 252.49 L305.65 252.66 L306.14 252.82 L306.62 252.98 L307.1 253.13 L307.59 253.28 L308.07 253.42 L308.55 253.55 L309.04 253.69 L309.52 253.81 L310 253.94 L310.49 254.06 L310.97 254.17 L311.45 254.29 L311.94 254.4 L312.42 254.5 L312.9 254.61 L313.39 254.71 L313.87 254.8 L314.35 254.9 L314.84 254.99 L315.32 255.08 L315.8 255.17 L316.28 255.26 L316.77 255.35 L317.25 255.43 L317.73 255.52 L318.22 255.6 L318.7 255.68 L319.18 255.77 L319.67 255.85 L320.15 255.93 L320.63 256.01 L321.12 256.09 L321.6 256.18 L322.08 256.26 L322.57 256.35 L323.05 256.43 L323.53 256.52 L324.02 256.61 L324.5 256.7 L324.98 256.79 L325.47 256.88 L325.95 256.98 L326.43 257.08 L326.92 257.18 L327.4 257.28 L327.88 257.39 L328.37 257.5 L328.85 257.61 L329.33 257.73 L329.82 257.85 L330.3 257.98" stroke="#de1a1a" stroke-width="1.65" fill="none" stroke-linejoin="round"/>
<rect x="168.9" y="203.8" width="187.2" height="150.7" fill="none" stroke="#000" stroke-width="1.5"/>
<path d="M179.91 354.5v3.2M223.96 354.5v3.2M268.01 354.5v3.2M312.05 354.5v3.2M356.1 354.5v3.2M201.94 354.5v1.6M245.98 354.5v1.6M290.03 354.5v1.6M334.08 354.5v1.6M168.9 313.2h-3.1M168.9 258.4h-3.1M168.9 203.6h-3.1M168.9 340.6h-1.6M168.9 285.8h-1.6M168.9 231h-1.6" stroke="#000" stroke-width="1.3" fill="none"/>
<text class="tx" x="179.71" y="366.8">-8</text>
<text class="tx" x="223.76" y="366.8">-4</text>
<text class="tx" x="268.01" y="366.8">0</text>
<text class="tx" x="312.05" y="366.8">4</text>
<text class="tx" x="356.1" y="366.8">8</text>
<text class="ty" x="163.9" y="316.3">0.5</text>
<text class="ty" x="163.9" y="261.5">.0</text>
<use href="#one" transform="translate(151.11 261.5) scale(0.01)"/>
<text class="ty" x="163.9" y="206.7">.5</text>
<use href="#one" transform="translate(151.11 206.7) scale(0.01)"/>
<text class="xt" x="257.2" y="379.5">Z/Z<tspan class="x0" dx="0.6" dy="2.5">0</tspan></text>
<text class="yt" transform="translate(148.2 279.05) rotate(-90)" x="0" y="0" textLength="143.3" lengthAdjust="spacingAndGlyphs">Normalised Transmittance</text>
<text class="tag" x="176.8" y="220.2">(d)</text>
<text class="conc" x="346.1" y="222.5">450 mM</text>
<path d="M419.5 248.3V269.9M424.5 249.4V271M426.5 252.4V272.2M430.5 247.7V268.7M437.5 246.5V268.1M441.5 248.3V269.3M446.5 255.3V274.8M452.5 262.9V277.5M504.5 230.4V248M508.5 222.7V249.4M513.5 226.5V252.7M518.5 235.3V259.7M524.5 239.8V262.8M530.5 242.4V264.6M536.5 240.7V262.9M541.5 243V265.2M547.5 240.1V262.3M552.5 239.5V261.1M557.5 240.1V262.3" stroke="#222" stroke-width="1" fill="none"/>
<path d="M420.5 248.6V269.6M425.5 249.7V270.7M427.5 252.7V271.9M431.5 248V268.4M438.5 246.8V267.8M442.5 248.6V269M447.5 255.6V274.5M453.5 263.2V277.2M505.5 230.7V247.7M509.5 223V249.1M514.5 226.8V252.4M519.5 235.6V259.4M525.5 240.1V262.5M531.5 242.7V264.3M537.5 241V262.6M542.5 243.3V264.9M548.5 240.4V262M553.5 239.8V260.8M558.5 240.4V262" stroke="#8a8a8a" stroke-width="1" fill="none"/>
<path d="M417.6 248.3h4.6M417.6 269.9h4.6M422.8 249.4h4.6M422.8 271h4.6M424.6 252.4h4.6M424.6 272.2h4.6M428.7 247.7h4.6M428.7 268.7h4.6M435.7 246.5h4.6M435.7 268.1h4.6M439.7 248.3h4.6M439.7 269.3h4.6M445 255.3h4.6M445 274.8h4.6M450.8 262.9h4.6M450.8 277.5h4.6M502.4 230.4h4.6M502.4 248h4.6M506.2 222.7h4.6M506.2 249.4h4.6M511.7 226.5h4.6M511.7 252.7h4.6M517 235.3h4.6M517 259.7h4.6M522.7 239.8h4.6M522.7 262.8h4.6M528.5 242.4h4.6M528.5 264.6h4.6M534.3 240.7h4.6M534.3 262.9h4.6M539.6 243h4.6M539.6 265.2h4.6M545.4 240.1h4.6M545.4 262.3h4.6M550.7 239.5h4.6M550.7 261.1h4.6M555.9 240.1h4.6M555.9 262.3h4.6" stroke="#111" stroke-width="1.1" fill="none"/>
<g fill="#fff" stroke="#058305" stroke-width="1.25"><circle cx="414.2" cy="259.59" r="4.15"/><circle cx="416.2" cy="258.97" r="4.15"/><circle cx="418.2" cy="258.81" r="4.15"/><circle cx="420.2" cy="258.91" r="4.15"/><circle cx="422.2" cy="258.29" r="4.15"/><circle cx="424.2" cy="258.36" r="4.15"/><circle cx="426.2" cy="257.73" r="4.15"/><circle cx="428.2" cy="257.22" r="4.15"/><circle cx="430.2" cy="258.7" r="4.15"/><circle cx="432.2" cy="258.96" r="4.15"/><circle cx="434.2" cy="257.81" r="4.15"/><circle cx="436.2" cy="258.13" r="4.15"/><circle cx="438.2" cy="258.93" r="4.15"/><circle cx="440.2" cy="259.03" r="4.15"/><circle cx="442.2" cy="258.82" r="4.15"/><circle cx="444.2" cy="259.63" r="4.15"/><circle cx="446.2" cy="262.06" r="4.15"/><circle cx="448.2" cy="264.32" r="4.15"/><circle cx="450.2" cy="265.56" r="4.15"/><circle cx="452.2" cy="268.39" r="4.15"/><circle cx="454.2" cy="272.94" r="4.15"/><path d="M454.2 270.41V275.47M452.4 270.41h3.6M452.4 275.47h3.6" class="eb"/><circle cx="456.25" cy="278.4" r="4.15"/><path d="M456.25 276.23V280.56M454.45 276.23h3.6M454.45 280.56h3.6" class="eb"/><circle cx="458.3" cy="285.19" r="4.15"/><path d="M458.3 283.13V287.25M456.5 283.13h3.6M456.5 287.25h3.6" class="eb"/><circle cx="460.35" cy="291.94" r="4.15"/><path d="M460.35 289.96V293.93M458.55 289.96h3.6M458.55 293.93h3.6" class="eb"/><circle cx="462.4" cy="297.48" r="4.15"/><path d="M462.4 295.57V299.38M460.6 295.57h3.6M460.6 299.38h3.6" class="eb"/><circle cx="464.45" cy="303.13" r="4.15"/><path d="M464.45 301.31V304.96M462.65 301.31h3.6M462.65 304.96h3.6" class="eb"/><circle cx="466.5" cy="309.11" r="4.15"/><path d="M466.5 307.36V310.87M464.7 307.36h3.6M464.7 310.87h3.6" class="eb"/><circle cx="468.55" cy="314.49" r="4.15"/><path d="M468.55 312.79V316.18M466.75 312.79h3.6M466.75 316.18h3.6" class="eb"/><circle cx="470.6" cy="318.63" r="4.15"/><path d="M470.6 316.99V320.28M468.8 316.99h3.6M468.8 320.28h3.6" class="eb"/><circle cx="472.65" cy="321.88" r="4.15"/><path d="M472.65 320.26V323.49M470.85 320.26h3.6M470.85 323.49h3.6" class="eb"/><circle cx="474.7" cy="324.69" r="4.15"/><path d="M474.7 323.09V326.29M472.9 323.09h3.6M472.9 326.29h3.6" class="eb"/><circle cx="476.75" cy="327.4" r="4.15"/><path d="M476.75 325.8V329M474.95 325.8h3.6M474.95 329h3.6" class="eb"/><circle cx="478.8" cy="329.78" r="4.15"/><path d="M478.8 328.18V331.38M477 328.18h3.6M477 331.38h3.6" class="eb"/><circle cx="480.85" cy="331.5" r="4.15"/><path d="M480.85 329.9V333.1M479.05 329.9h3.6M479.05 333.1h3.6" class="eb"/><circle cx="482.9" cy="332.22" r="4.15"/><path d="M482.9 330.62V333.82M481.1 330.62h3.6M481.1 333.82h3.6" class="eb"/><circle cx="484.95" cy="331.59" r="4.15"/><path d="M484.95 329.99V333.19M483.15 329.99h3.6M483.15 333.19h3.6" class="eb"/><circle cx="487" cy="329.28" r="4.15"/><path d="M487 327.68V330.88M485.2 327.68h3.6M485.2 330.88h3.6" class="eb"/><circle cx="489.05" cy="324.95" r="4.15"/><path d="M489.05 323.33V326.57M487.25 323.33h3.6M487.25 326.57h3.6" class="eb"/><circle cx="491.1" cy="318.08" r="4.15"/><path d="M491.1 316.35V319.81M489.3 316.35h3.6M489.3 319.81h3.6" class="eb"/><circle cx="493.15" cy="307.59" r="4.15"/><path d="M493.15 305.7V309.47M491.35 305.7h3.6M491.35 309.47h3.6" class="eb"/><circle cx="495.2" cy="295.76" r="4.15"/><path d="M495.2 293.75V297.77M493.4 293.75h3.6M493.4 297.77h3.6" class="eb"/><circle cx="497.25" cy="285.57" r="4.15"/><path d="M497.25 283.49V287.65M495.45 283.49h3.6M495.45 287.65h3.6" class="eb"/><circle cx="499.3" cy="272.74" r="4.15"/><path d="M499.3 270.62V274.87M497.5 270.62h3.6M497.5 274.87h3.6" class="eb"/><circle cx="501.35" cy="258.94" r="4.15"/><path d="M501.35 256.75V261.12M499.55 256.75h3.6M499.55 261.12h3.6" class="eb"/><circle cx="503.4" cy="243.56" r="4.15"/><path d="M503.4 241.28V245.84M501.6 241.28h3.6M501.6 245.84h3.6" class="eb"/><circle cx="505.45" cy="235.09" r="4.15"/><path d="M505.45 232.22V237.96M503.65 232.22h3.6M503.65 237.96h3.6" class="eb"/><circle cx="507.5" cy="234.48" r="4.15"/><circle cx="509.5" cy="238.65" r="4.15"/><circle cx="511.5" cy="239.98" r="4.15"/><circle cx="513.5" cy="241.9" r="4.15"/><circle cx="515.5" cy="245.28" r="4.15"/><circle cx="517.5" cy="246.77" r="4.15"/><circle cx="519.5" cy="247.66" r="4.15"/><circle cx="521.5" cy="249.07" r="4.15"/><circle cx="523.5" cy="249.97" r="4.15"/><circle cx="525.5" cy="250.13" r="4.15"/><circle cx="527.5" cy="250.71" r="4.15"/><circle cx="529.5" cy="252.34" r="4.15"/><circle cx="531.5" cy="253.69" r="4.15"/><circle cx="533.5" cy="254.04" r="4.15"/><circle cx="535.5" cy="252.36" r="4.15"/><circle cx="537.5" cy="250.79" r="4.15"/><circle cx="539.5" cy="252.31" r="4.15"/><circle cx="541.5" cy="253.49" r="4.15"/><circle cx="543.5" cy="251.65" r="4.15"/><circle cx="545.5" cy="249.56" r="4.15"/><circle cx="547.5" cy="248.68" r="4.15"/><circle cx="549.5" cy="248.7" r="4.15"/><circle cx="551.5" cy="248.86" r="4.15"/><circle cx="553.5" cy="249.61" r="4.15"/><circle cx="555.5" cy="251.07" r="4.15"/><circle cx="557.5" cy="251.23" r="4.15"/><circle cx="559.5" cy="252.08" r="4.15"/><circle cx="560" cy="253.08" r="4.15"/></g>
<path d="M414 263.93 L414.49 264.09 L414.97 264.24 L415.46 264.39 L415.95 264.53 L416.43 264.67 L416.92 264.81 L417.4 264.94 L417.89 265.06 L418.38 265.19 L418.86 265.3 L419.35 265.42 L419.84 265.53 L420.32 265.64 L420.81 265.75 L421.29 265.85 L421.78 265.95 L422.27 266.05 L422.75 266.15 L423.24 266.25 L423.73 266.34 L424.21 266.43 L424.7 266.53 L425.18 266.62 L425.67 266.7 L426.16 266.79 L426.64 266.88 L427.13 266.97 L427.62 267.06 L428.1 267.15 L428.59 267.24 L429.07 267.32 L429.56 267.41 L430.05 267.5 L430.53 267.6 L431.02 267.69 L431.51 267.78 L431.99 267.88 L432.48 267.98 L432.97 268.08 L433.45 268.18 L433.94 268.28 L434.42 268.39 L434.91 268.5 L435.4 268.61 L435.88 268.73 L436.37 268.85 L436.86 268.97 L437.34 269.1 L437.83 269.23 L438.31 269.37 L438.8 269.51 L439.29 269.65 L439.77 269.8 L440.26 269.95 L440.75 270.11 L441.23 270.28 L441.72 270.45 L442.2 270.62 L442.69 270.8 L443.18 270.99 L443.66 271.18 L444.15 271.38 L444.64 271.59 L445.12 271.8 L445.61 272.03 L446.09 272.25 L446.58 272.49 L447.07 272.73 L447.55 272.98 L448.04 273.24 L448.53 273.51 L449.01 273.78 L449.5 274.07 L449.99 274.36 L450.47 274.66 L450.96 274.97 L451.44 275.29 L451.93 275.62 L452.42 275.96 L452.9 276.31 L453.39 276.67 L453.88 277.04 L454.36 277.42 L454.85 277.81 L455.33 278.22 L455.82 278.63 L456.31 279.05 L456.79 279.49 L457.28 279.94 L457.77 280.4 L458.25 280.87 L458.74 281.35 L459.22 281.85 L459.71 282.36 L460.2 282.88 L460.68 283.41 L461.17 283.96 L461.66 284.52 L462.14 285.1 L462.63 285.69 L463.12 286.29 L463.6 286.91 L464.09 287.54 L464.57 288.18 L465.06 288.85 L465.55 289.52 L466.03 290.21 L466.52 290.92 L467.01 291.64 L467.49 292.38 L467.98 293.13 L468.46 293.9 L468.95 294.68 L469.44 295.49 L469.92 296.31 L470.41 297.15 L470.9 298.01 L471.38 298.9 L471.87 299.82 L472.35 300.76 L472.84 301.73 L473.33 302.73 L473.81 303.76 L474.3 304.83 L474.79 305.94 L475.27 307.08 L475.76 308.27 L476.24 309.49 L476.73 310.76 L477.22 312.07 L477.7 313.43 L478.19 314.84 L478.68 316.3 L479.16 317.81 L479.65 319.38 L480.14 320.98 L480.62 322.6 L481.11 324.23 L481.59 325.84 L482.08 327.41 L482.57 328.92 L483.05 330.35 L483.54 331.69 L484.03 332.91 L484.51 333.99 L485 334.92 L485.48 335.7 L485.97 336.33 L486.46 336.81 L486.94 337.15 L487.43 337.34 L487.92 337.38 L488.4 337.16 L488.89 336.58 L489.37 335.52 L489.86 333.88 L490.35 331.63 L490.83 328.87 L491.32 325.69 L491.81 322.2 L492.29 318.51 L492.78 314.73 L493.26 310.94 L493.75 307.16 L494.24 303.37 L494.72 299.56 L495.21 295.73 L495.7 291.86 L496.18 287.95 L496.67 283.98 L497.16 279.94 L497.64 275.82 L498.13 271.63 L498.61 267.41 L499.1 263.23 L499.59 259.15 L500.07 255.26 L500.56 251.62 L501.05 248.29 L501.53 245.32 L502.02 242.69 L502.5 240.38 L502.99 238.38 L503.48 236.68 L503.96 235.24 L504.45 234.06 L504.94 233.12 L505.42 232.4 L505.91 231.88 L506.39 231.55 L506.88 231.39 L507.37 231.38 L507.85 231.5 L508.34 231.73 L508.83 232.07 L509.31 232.48 L509.8 232.96 L510.28 233.48 L510.77 234.04 L511.26 234.6 L511.74 235.16 L512.23 235.71 L512.72 236.26 L513.2 236.79 L513.69 237.32 L514.18 237.84 L514.66 238.36 L515.15 238.86 L515.63 239.36 L516.12 239.86 L516.61 240.34 L517.09 240.82 L517.58 241.28 L518.07 241.75 L518.55 242.2 L519.04 242.65 L519.52 243.09 L520.01 243.52 L520.5 243.95 L520.98 244.37 L521.47 244.78 L521.96 245.19 L522.44 245.59 L522.93 245.98 L523.41 246.36 L523.9 246.74 L524.39 247.11 L524.87 247.48 L525.36 247.84 L525.85 248.19 L526.33 248.53 L526.82 248.87 L527.31 249.2 L527.79 249.53 L528.28 249.85 L528.76 250.16 L529.25 250.47 L529.74 250.77 L530.22 251.07 L530.71 251.36 L531.2 251.64 L531.68 251.92 L532.17 252.19 L532.65 252.45 L533.14 252.71 L533.63 252.97 L534.11 253.21 L534.6 253.46 L535.09 253.69 L535.57 253.92 L536.06 254.15 L536.54 254.37 L537.03 254.58 L537.52 254.79 L538 254.99 L538.49 255.19 L538.98 255.38 L539.46 255.57 L539.95 255.75 L540.43 255.93 L540.92 256.1 L541.41 256.27 L541.89 256.43 L542.38 256.59 L542.87 256.74 L543.35 256.89 L543.84 257.03 L544.33 257.16 L544.81 257.3 L545.3 257.42 L545.78 257.55 L546.27 257.67 L546.76 257.78 L547.24 257.89 L547.73 257.99 L548.22 258.09 L548.7 258.19 L549.19 258.28 L549.67 258.37 L550.16 258.45 L550.65 258.53 L551.13 258.61 L551.62 258.68 L552.11 258.74 L552.59 258.81 L553.08 258.86 L553.56 258.92 L554.05 258.97 L554.54 259.02 L555.02 259.06 L555.51 259.1 L556 259.13 L556.48 259.16 L556.97 259.19 L557.45 259.22 L557.94 259.24 L558.43 259.26 L558.91 259.27 L559.4 259.28" stroke="#de1a1a" stroke-width="1.65" fill="none" stroke-linejoin="round"/>
<rect x="396" y="203.8" width="187.7" height="151" fill="none" stroke="#000" stroke-width="1.5"/>
<path d="M407.04 354.8v3.2M451.21 354.8v3.2M495.37 354.8v3.2M539.54 354.8v3.2M583.7 354.8v3.2M429.12 354.8v1.6M473.29 354.8v1.6M517.45 354.8v1.6M561.62 354.8v1.6M396 311.9h-3.1M396 257.9h-3.1M396 203.9h-3.1M396 338.9h-1.6M396 284.9h-1.6M396 230.9h-1.6" stroke="#000" stroke-width="1.3" fill="none"/>
<text class="tx" x="406.84" y="367.1">-8</text>
<text class="tx" x="451.01" y="367.1">-4</text>
<text class="tx" x="495.37" y="367.1">0</text>
<text class="tx" x="539.54" y="367.1">4</text>
<text class="tx" x="583.7" y="367.1">8</text>
<text class="ty" x="391" y="315">0.5</text>
<text class="ty" x="391" y="261">.0</text>
<use href="#one" transform="translate(378.21 261) scale(0.01)"/>
<text class="ty" x="391" y="207">.5</text>
<use href="#one" transform="translate(378.21 207) scale(0.01)"/>
<text class="xt" x="484.3" y="379.8">Z/Z<tspan class="x0" dx="0.6" dy="2.5">0</tspan></text>
<text class="yt" transform="translate(375.3 279.2) rotate(-90)" x="0" y="0" textLength="143.3" lengthAdjust="spacingAndGlyphs">Normalised Transmittance</text>
<text class="tag" x="403.4" y="219.8">(e)</text>
<text class="conc" x="577.2" y="222.5">550 mM</text>
</svg>
</body></html>
